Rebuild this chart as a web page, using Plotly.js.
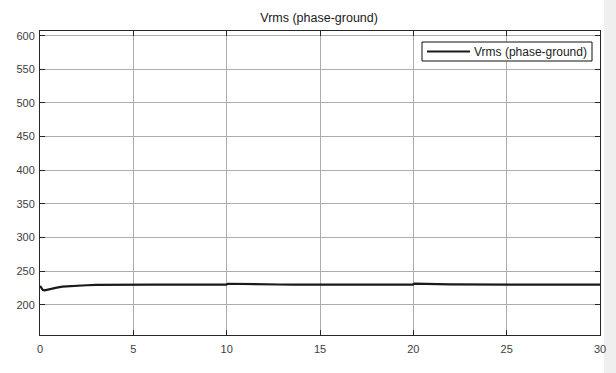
<!DOCTYPE html>
<html>
<head>
<meta charset="utf-8">
<script src="https://cdn.plot.ly/plotly-3.0.1.min.js"></script>
<style>html,body{margin:0;padding:0;background:#fff;}#chart{width:616px;height:373px;}</style>
</head>
<body>
<div id="chart"></div>
<script>
const seriesName = "Vrms (phase-ground)";
const timeS = [0, 0.03, 0.08, 0.15, 0.25, 0.4, 0.6, 0.9, 1.2, 1.6, 2.0, 2.5, 3.0, 3.5, 4.0, 5.0, 6.0, 8.0, 9.98,
  10.05, 10.3, 10.8, 11.3, 12.0, 12.8, 13.5, 14.5, 16, 18, 19.98,
  20.05, 20.3, 20.8, 21.3, 22.0, 22.8, 23.5, 24.5, 26, 28, 30];
const vrms = [228, 227, 224, 222, 221.5, 222.5, 224, 225.5, 226.8, 227.8, 228.5, 229, 229.4, 229.6, 229.7, 229.8, 229.8, 229.8, 229.8,
  231.2, 231.0, 230.7, 230.5, 230.3, 230.1, 230.0, 229.9, 229.8, 229.8, 229.8,
  231.5, 231.2, 230.8, 230.6, 230.3, 230.1, 230.0, 229.9, 229.8, 229.8, 229.8];
const xTicks = [0, 5, 10, 15, 20, 25, 30];
const yTicks = [200, 250, 300, 350, 400, 450, 500, 550, 600];

const lineColor = '#1a1a1a';
const trace = {
  x: timeS, y: vrms, type: 'scatter', mode: 'lines', name: seriesName,
  line: {color: lineColor, width: 2.2}, showlegend: false
};
const font = 'Liberation Sans, Arial, sans-serif';
const axisCommon = {
  showline: true, linecolor: '#262626', linewidth: 1, mirror: 'ticks',
  ticks: 'inside', ticklen: 5, tickcolor: '#262626',
  showgrid: true, gridcolor: '#adadad', gridwidth: 1, zeroline: false,
  tickfont: {family: font, size: 11, color: '#404040'}
};
// legend box in paper coords (plot area 40..600 x, 31..335 y)
const px = v => (v - 40) / 560;
const py = v => (335 - v) / 304;
const layout = {
  width: 616, height: 373,
  margin: {l: 40, r: 16, t: 31, b: 38},
  paper_bgcolor: '#ffffff', plot_bgcolor: '#ffffff',
  title: {text: 'Vrms (phase-ground)', x: 0.518, xanchor: 'center', y: 0.952, yanchor: 'middle', yref: 'container',
    font: {family: font, size: 12.5, color: '#1a1a1a'}},
  xaxis: Object.assign({}, axisCommon, {range: [0, 30], tickvals: xTicks, ticktext: xTicks.map(String), ticklabelstandoff: 4}),
  yaxis: Object.assign({}, axisCommon, {range: [155, 607], tickvals: yTicks, ticktext: yTicks.map(String), ticklabelstandoff: 2}),
  showlegend: false,
  shapes: [
    {type: 'rect', xref: 'paper', yref: 'paper', x0: 1.007, x1: 1.03, y0: -0.13, y1: 1.11,
      fillcolor: '#efefef', line: {width: 0}, layer: 'below'},
    {type: 'rect', xref: 'paper', yref: 'paper', x0: px(422), x1: px(592), y0: py(61), y1: py(42),
      fillcolor: '#ffffff', line: {color: '#111', width: 1}},
    {type: 'line', xref: 'paper', yref: 'paper', x0: px(427), x1: px(470), y0: py(51.5), y1: py(51.5),
      line: {color: lineColor, width: 2}}
  ],
  annotations: [
    {text: seriesName, xref: 'paper', yref: 'paper', x: px(472), y: py(51.5), xanchor: 'left', yanchor: 'middle',
      showarrow: false, font: {family: font, size: 12, color: '#222'}}
  ]
};
Plotly.newPlot('chart', [trace], layout, {displayModeBar: false, staticPlot: true});
</script>
</body>
</html>
